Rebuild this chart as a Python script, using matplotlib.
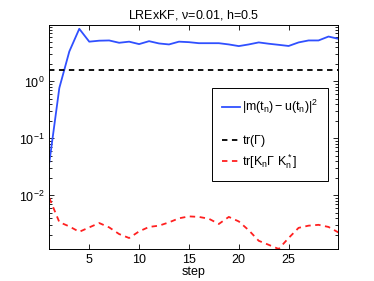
import matplotlib
matplotlib.use("Agg")
import matplotlib.pyplot as plt
from matplotlib.lines import Line2D
from matplotlib.ticker import LogLocator, NullFormatter

plt.rcParams['font.family'] = ['Liberation Sans', 'DejaVu Sans']
plt.rcParams['mathtext.fontset'] = 'custom'
plt.rcParams['mathtext.rm'] = 'Liberation Sans'
plt.rcParams['mathtext.it'] = 'Liberation Sans'

steps = list(range(1, 31))
err = [0.0385, 0.77, 3.36, 8.4, 5.0, 5.2, 5.25, 4.78, 5.0, 4.53,
       5.1, 4.65, 4.47, 5.0, 4.9, 4.7, 4.7, 4.7, 4.47, 4.18,
       4.47, 4.85, 4.6, 4.4, 4.2, 4.85, 5.25, 5.25, 6.15, 5.6]
tr_gamma = 1.58
tr_kgk = [9.0e-3, 3.4e-3, 2.86e-3, 2.3e-3, 2.75e-3, 3.28e-3, 2.75e-3, 2.1e-3, 1.79e-3, 2.34e-3,
          2.8e-3, 2.95e-3, 3.37e-3, 3.97e-3, 4.29e-3, 4.2e-3, 3.9e-3, 3.16e-3, 4.2e-3, 3.5e-3,
          2.45e-3, 1.6e-3, 1.36e-3, 1.15e-3, 1.79e-3, 2.7e-3, 2.95e-3, 3.05e-3, 2.8e-3, 2.24e-3]
xticks = [5, 10, 15, 20, 25]

fig = plt.figure(figsize=(3.74, 2.81), dpi=100)
ax = fig.add_axes([0.132, 0.114, 0.773, 0.797])

l1, = ax.semilogy(steps, err, color='#3050ff', lw=1.3, label=r'$|\mathrm{m(t_n)-u(t_n)}|^2$')
l2 = ax.axhline(tr_gamma, color='black', lw=1.3, ls=(0, (3, 2.5)), label=r'tr($\Gamma$)')
l3, = ax.semilogy(steps, tr_kgk, color='#ff2020', lw=1.3, ls=(0, (3, 2.5)),
                  label=r'tr[K$_\mathrm{n}\Gamma$ K$_\mathrm{n}^*$]')

ax.set_xlim(1, 30)
ax.set_ylim(1.15e-3, 9.8)
ax.set_xticks(xticks)
ax.yaxis.set_major_locator(LogLocator(base=10, numticks=10))
ax.yaxis.set_minor_locator(LogLocator(base=10, subs=range(2, 10), numticks=20))
ax.yaxis.set_minor_formatter(NullFormatter())
ax.tick_params(which='both', direction='in', top=True, right=True, labelsize=9, width=0.6)
ax.tick_params(which='major', length=3.5)
ax.tick_params(which='minor', length=2)
for s in ax.spines.values():
    s.set_linewidth(0.7)

ax.set_xlabel('step', fontsize=9, labelpad=0)
ax.set_title(r'LRExKF, $\nu$=0.01, h=0.5', fontsize=9, pad=5)

blank = Line2D([], [], color='none', label=' ')
leg = ax.legend(handles=[l1, blank, l2, l3], loc='upper right', bbox_to_anchor=(0.965, 0.72),
                fontsize=9, frameon=True, fancybox=False, edgecolor='black', framealpha=1,
                handlelength=1.5, handletextpad=0.15, labelspacing=0.22, borderpad=0.8,
                borderaxespad=0)
leg.get_frame().set_linewidth(0.7)

fig.savefig('out.png', dpi=100)
